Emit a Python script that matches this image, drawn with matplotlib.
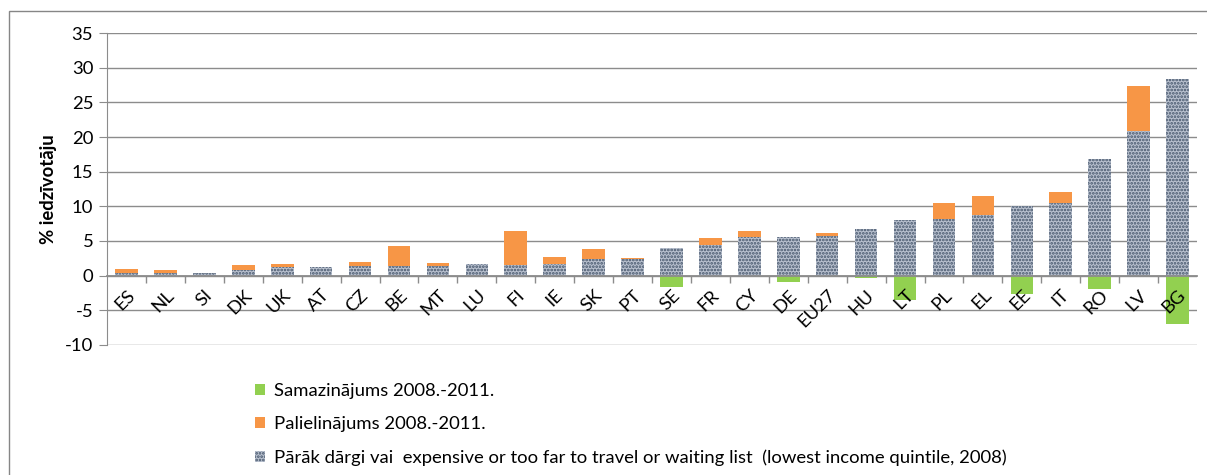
import numpy as np
import matplotlib.pyplot as plt
from matplotlib.patches import Rectangle

plt.rcParams['font.family'] = ['Lato', 'DejaVu Sans']
plt.rcParams['hatch.linewidth'] = 1.3
plt.rcParams['axes.unicode_minus'] = False

countries = ["ES", "NL", "SI", "DK", "UK", "AT", "CZ", "BE", "MT", "LU", "FI", "IE", "SK", "PT",
             "SE", "FR", "CY", "DE", "EU27", "HU", "LT", "PL", "EL", "EE", "IT", "RO", "LV", "BG"]
base_2008 = [0.4, 0.4, 0.4, 0.75, 1.2, 1.3, 1.35, 1.4, 1.35, 1.65, 1.6, 1.7, 2.45, 2.4,
             4.0, 4.45, 5.55, 5.55, 5.65, 6.7, 8.05, 8.15, 8.7, 10.1, 10.5, 16.8, 20.9, 28.3]
increase = [0.5, 0.35, 0, 0.75, 0.5, 0, 0.65, 2.9, 0.5, 0, 4.8, 1.0, 1.4, 0.2,
            0, 1.05, 0.85, 0, 0.45, 0, 0, 2.35, 2.85, 0, 1.5, 0, 6.5, 0]
decrease = [0, 0, 0, 0, 0, -0.1, 0, 0, 0, -0.1, 0, 0, 0, 0,
            -1.6, 0, 0, -0.9, 0, -0.4, -3.55, 0, 0, -2.65, 0, -1.9, 0, -7.0]

labels = ["Samazinājums 2008.-2011.",
          "Palielinājums 2008.-2011.",
          "Pārāk dārgi vai  expensive or too far to travel or waiting list  (lowest income quintile, 2008)"]

fig = plt.figure(figsize=(12.07, 4.75), dpi=100)
ax = fig.add_axes([0.0887, 0.2737, 0.9030, 0.6568])

x = np.arange(len(countries))
w = 0.58
grid_col = '#8c8c8c'
fs = 13.3

# bars sit under the axis (zorder 2.5) so the country labels stay readable on the green bars
green = ax.bar(x, decrease, w, color='#92D050', linewidth=0, zorder=1)
orange = ax.bar(x, increase, w, bottom=base_2008, color='#F79646', linewidth=0, zorder=1)
blue = ax.bar(x, base_2008, w, color='#b9c1cf', edgecolor='#44546A', hatch='.....',
              linewidth=0, zorder=1)

ax.set_xlim(-0.5, len(countries) - 0.5)
ax.set_ylim(-10, 35)
ax.set_yticks(range(-10, 36, 5))
for yv in range(-10, 36, 5):
    ax.axhline(yv, color=grid_col, linewidth=1.0, zorder=0.5)
for s in ['top', 'right']:
    ax.spines[s].set_visible(False)
ax.spines['left'].set_color(grid_col)
ax.tick_params(axis='y', length=6, color=grid_col, labelsize=fs, pad=4)

# category axis crosses at zero
ax.spines['bottom'].set_position(('data', 0))
ax.spines['bottom'].set_color(grid_col)
ax.spines['bottom'].set_linewidth(1.3)
ax.set_xticks(x)
ax.set_xticklabels(countries, rotation=45, ha='right', rotation_mode='anchor', fontsize=fs)
ax.set_xticks(np.arange(0.5, len(countries) - 0.5), minor=True)
ax.tick_params(axis='x', which='major', length=0, pad=8)
ax.tick_params(axis='x', which='minor', length=5, color=grid_col, width=1.0)

ax.set_ylabel("% iedzīvotāju", fontsize=fs, fontweight='bold', labelpad=6)

fig.legend([green, orange, blue], labels, loc='upper left', bbox_to_anchor=(0.205, 0.21),
           frameon=False, fontsize=fs, handlelength=0.55, handleheight=0.55,
           handletextpad=0.5, labelspacing=0.95, borderaxespad=0)

fig.patches.append(Rectangle((9 / 1207, -0.01), 1.1, 1 - 11 / 475 + 0.01, transform=fig.transFigure,
                             fill=False, edgecolor='#868686', linewidth=1.0))

fig.savefig("out.png", dpi=100)
